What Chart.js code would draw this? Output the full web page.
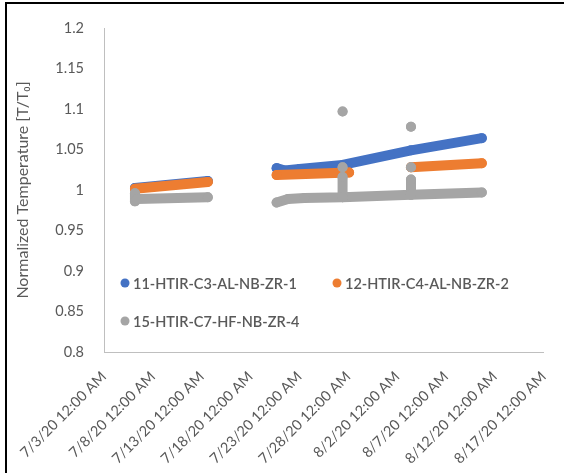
<!DOCTYPE html>
<html>
<head>
<meta charset="utf-8">
<script src="https://cdn.jsdelivr.net/npm/chart.js@4.4.1/dist/chart.umd.min.js"></script>
<style>
  html, body { margin: 0; padding: 0; background: #fff; }
  #wrap { position: relative; width: 564px; height: 473px; }
  #frame { position: absolute; left: 5px; top: 2px; right: 0; bottom: 0;
           border-left: 2px solid #000; border-top: 2px solid #000; pointer-events: none; }
</style>
</head>
<body>
<div id="wrap">
  <canvas id="tempChart" width="564" height="473"></canvas>
  <div id="frame"></div>
</div>
<script>
// x tick labels (every 5 days from 7/3/20)
const xTickLabels = ['7/3/20 12:00 AM', '7/8/20 12:00 AM', '7/13/20 12:00 AM', '7/18/20 12:00 AM',
  '7/23/20 12:00 AM', '7/28/20 12:00 AM', '8/2/20 12:00 AM', '8/7/20 12:00 AM',
  '8/12/20 12:00 AM', '8/17/20 12:00 AM'];
const yTickLabels = ['0.8', '0.85', '0.9', '0.95', '1', '1.05', '1.1', '1.15', '1.2'];

const seriesNames = ['11-HTIR-C3-AL-NB-ZR-1', '12-HTIR-C4-AL-NB-ZR-2', '15-HTIR-C7-HF-NB-ZR-4'];
const seriesColors = ['#4472C4', '#ED7D31', '#A5A5A5'];

// null = gap between recording periods
const blueTimes = ['2020-07-06T04:00', '2020-07-13T15:00', null,
  '2020-07-20T16:00', '2020-07-21T12:00', '2020-07-23T00:00', '2020-07-27T10:00', '2020-08-03T10:00', '2020-08-10T16:00'];
const blueValues = [1.0025, 1.011, null,
  1.027, 1.024, 1.026, 1.031, 1.049, 1.064];

const orangeTimes = ['2020-07-06T04:00', '2020-07-13T15:00', null,
  '2020-07-20T16:00', '2020-07-28T02:00', null,
  '2020-08-03T10:00', '2020-08-10T16:00'];
const orangeValues = [1.0015, 1.010, null,
  1.0185, 1.0215, null,
  1.028, 1.033];

const grayTimes = ['2020-07-06T04:00', '2020-07-06T04:00', '2020-07-06T10:00', '2020-07-13T15:00', null,
  '2020-07-20T16:00', '2020-07-21T20:00', '2020-07-23T12:00', '2020-07-27T10:00', '2020-07-27T10:00',
  '2020-07-27T10:00', '2020-08-03T10:00', '2020-08-03T10:00', '2020-08-03T10:00', '2020-08-10T16:00', null,
  '2020-07-27T10:00', null, '2020-07-27T10:00', null, '2020-08-03T10:00', null, '2020-08-03T10:00'];
const grayValues = [0.996, 0.986, 0.989, 0.991, null,
  0.9845, 0.989, 0.990, 0.991, 1.016,
  0.991, 0.994, 1.013, 0.994, 0.997, null,
  1.097, null, 1.028, null, 1.078, null, 1.028];

const t0 = new Date(2020, 6, 3);
const toPoints = (times, values) => times.map((t, i) => ({
  x: t === null ? null : (new Date(t) - t0) / 864e5,
  y: values[i]
}));

const makeSet = (idx, times, values, order) => ({
  label: seriesNames[idx],
  data: toPoints(times, values),
  borderColor: seriesColors[idx],
  backgroundColor: seriesColors[idx],
  borderWidth: 10,
  borderCapStyle: 'round',
  borderJoinStyle: 'round',
  pointRadius: 5,
  pointBorderWidth: 0,
  pointHoverRadius: 5,
  spanGaps: false,
  tension: 0,
  order: order
});

const fontFamily = 'Lato, "Liberation Sans", Arial, sans-serif';

// legend drawn inside the plot area
const insideLegend = {
  id: 'insideLegend',
  afterDatasetsDraw(chart) {
    const ctx = chart.ctx;
    const a = chart.chartArea;
    const spots = [[a.left + 21, a.top + 255], [a.left + 233, a.top + 255], [a.left + 21, a.top + 293]];
    ctx.save();
    ctx.font = '600 14.5px ' + fontFamily;
    ctx.textBaseline = 'middle';
    chart.data.datasets.forEach((ds, i) => {
      const [x, y] = spots[i];
      ctx.fillStyle = ds.borderColor;
      ctx.beginPath();
      ctx.arc(x, y, 4.5, 0, Math.PI * 2);
      ctx.fill();
      ctx.fillStyle = '#595959';
      ctx.fillText(ds.label, x + 8, y + 1);
    });
    ctx.restore();
  }
};

const ctx = document.getElementById('tempChart').getContext('2d');
new Chart(ctx, {
  type: 'line',
  data: {
    datasets: [
      makeSet(0, blueTimes, blueValues, 2),
      makeSet(1, orangeTimes, orangeValues, 1),
      makeSet(2, grayTimes, grayValues, 0)
    ]
  },
  options: {
    responsive: false,
    animation: false,
    layout: { padding: { left: 8, top: 28, right: 19, bottom: 0 } },
    plugins: { legend: { display: false }, tooltip: { enabled: false } },
    scales: {
      x: {
        type: 'linear',
        min: 0,
        max: 45,
        grid: { display: false },
        border: { color: '#BFBFBF', width: 1 },
        ticks: {
          stepSize: 5,
          autoSkip: false,
          minRotation: 45,
          maxRotation: 45,
          padding: 8,
          color: '#595959',
          font: { family: fontFamily, size: 14.5 },
          callback: (v) => xTickLabels[Math.round(v / 5)]
        },
        afterFit: (s) => { s.height = 121; }
      },
      y: {
        min: 0.8,
        max: 1.2,
        grid: { display: false },
        border: { color: '#BFBFBF', width: 1 },
        ticks: {
          stepSize: 0.05,
          padding: 12,
          color: '#595959',
          font: { family: fontFamily, size: 14.5 },
          callback: (v) => yTickLabels[Math.round((v - 0.8) / 0.05)]
        },
        title: {
          display: true,
          text: 'Normalized Temperature [T/T\u2080]',
          color: '#595959',
          padding: { top: 5, bottom: 0 },
          font: { family: fontFamily, size: 16 }
        },
        afterFit: (s) => { s.width = 96; }
      }
    }
  },
  plugins: [insideLegend]
});
</script>
</body>
</html>
